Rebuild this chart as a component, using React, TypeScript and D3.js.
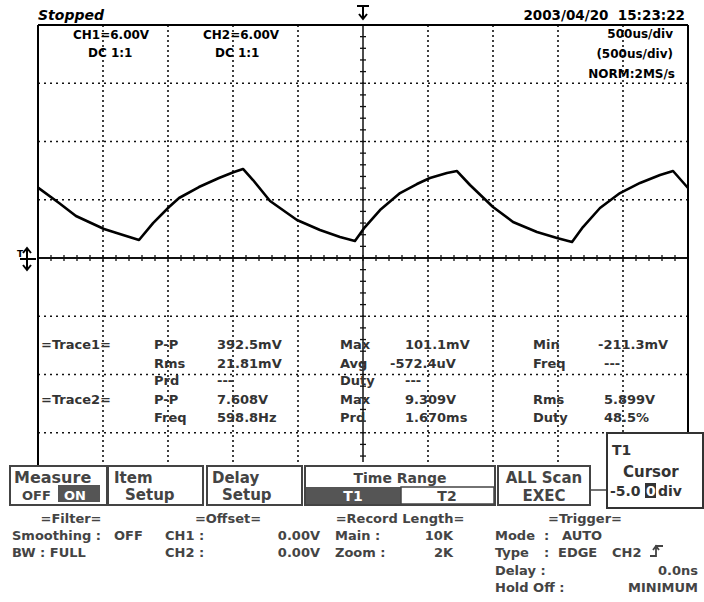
import React from "react";
import * as d3 from "d3";

// trace 2 (CH2): time in us, level in volts
const trace2Time = [0, 162, 292, 508, 654, 777, 885, 1008, 1085, 1238, 1392, 1508, 1577, 1654, 1785, 1992, 2169, 2323, 2438, 2515, 2631, 2785, 2915, 3015, 3146, 3223, 3323, 3500, 3654, 3838, 3992, 4108, 4192, 4323, 4477, 4631, 4785, 4885, 5000];
const trace2Volt = [7.25, 5.67, 4.33, 2.99, 2.37, 1.85, 3.6, 5.25, 6.18, 7.31, 8.24, 8.86, 9.17, 8.03, 5.87, 3.91, 2.88, 2.16, 1.75, 3.19, 4.94, 6.69, 7.62, 8.24, 8.76, 8.96, 7.52, 5.25, 3.71, 2.68, 2.06, 1.65, 3.19, 5.15, 6.69, 7.73, 8.55, 8.96, 7.21];

// trace 1 (CH1) is flat around 0 V
const trace1Time = [0, 5000];
const trace1Volt = [0, 0];

const timeDomain = [0, 5000]; // 10 div x 500us
const voltDomain = [-24, 24]; // 8 div x 6 V

const measRows = [
  ["=Trace1=", "P-P", "392.5mV", "Max", "101.1mV", "Min", "-211.3mV"],
  ["", "Rms", "21.81mV", "Avg", "-572.4uV", "Freq", " ---"],
  ["", "Prd", " ---", "Duty", "---", "", ""],
  ["=Trace2=", "P-P", "7.608V", "Max", "9.309V", "Rms", "5.899V"],
  ["", "Freq", "598.8Hz", "Prd", "1.670ms", "Duty", "48.5%"],
];
const measCols = [41, 154, 217, 340, 405, 533, 604];
const measBase = [349, 368, 385, 404, 422];

const menuTop = ["Measure", "Item", "Delay", "Time Range", "ALL Scan"];
const menuBottom = ["OFF", "Setup", "Setup", "T2", "EXEC"];
const menuEdges = [[10, 107], [108, 203], [207, 302], [305, 495], [498, 590]];

const W = 704;
const H = 602;
const left = 38;
const right = 688;
const top = 25;
const bottom = 491;

const txt = "DejaVu Sans, sans-serif";
const pre = { whiteSpace: "pre" as const };

export default function App() {
  const x = d3.scaleLinear().domain(timeDomain).range([left, right]);
  const y = d3.scaleLinear().domain(voltDomain).range([bottom, top]);

  const line = d3
    .line<number>()
    .x((d, i) => x(trace2Time[i]))
    .y((d) => y(d));
  const line1 = d3
    .line<number>()
    .x((d, i) => x(trace1Time[i]))
    .y((d) => y(d));

  const xGrid = d3.range(500, 5000, 500);
  const yGrid = d3.range(-18, 24, 6);
  const xMinor = d3.range(100, 5000, 100);
  const yMinor = d3.range(-22.8, 24, 1.2);
  const x0 = x(2500);
  const y0 = y(0);

  return (
    <div style={{ position: "absolute", left: 0, top: 0 }}>
      <svg width={W} height={H} style={{ display: "block", background: "#fff" }}>
        {/* grid */}
        {xGrid
          .filter((t) => t !== 2500)
          .map((t) => (
            <line key={"gx" + t} x1={x(t)} x2={x(t)} y1={top} y2={466} stroke="#111" strokeWidth={1.6} strokeDasharray="2,3" />
          ))}
        {yGrid
          .filter((v) => v !== 0)
          .map((v) => (
            <line key={"gy" + v} x1={left} x2={right} y1={y(v)} y2={y(v)} stroke="#111" strokeWidth={1.6} strokeDasharray="2,4" />
          ))}
        {/* centre axes with minor ticks */}
        <line x1={x0} x2={x0} y1={top} y2={462} stroke="#111" strokeWidth={1.5} />
        {yMinor.map((v) => (
          <line key={"ym" + v} x1={x0 - 3} x2={x0 + 3} y1={y(v)} y2={y(v)} stroke="#111" strokeWidth={1.3} />
        ))}
        {xMinor.map((t) => (
          <line key={"xm" + t} x1={x(t)} x2={x(t)} y1={y0 - 3} y2={y0 + 3} stroke="#111" strokeWidth={1.3} />
        ))}
        <path d={line1(trace1Volt) || ""} fill="none" stroke="#111" strokeWidth={2} />
        <path d={line(trace2Volt) || ""} fill="none" stroke="#000" strokeWidth={2.6} strokeLinejoin="round" />

        {/* frame */}
        <line x1={left} x2={right} y1={top} y2={top} stroke="#000" strokeWidth={2} />
        <line x1={left} x2={left} y1={top} y2={466} stroke="#000" strokeWidth={2} />
        <line x1={right} x2={right} y1={top} y2={433} stroke="#000" strokeWidth={2} />

        {/* header */}
        <text x={38} y={20} fontFamily={txt} fontSize={14} fontWeight="bold" fontStyle="italic">Stopped</text>
        <text x={685} y={20} fontFamily={txt} fontSize={13.5} fontWeight="bold" textAnchor="end" style={pre}>2003/04/20  15:23:22</text>
        <path d="M357,6 H369 M363,6 V19 M359,14 L363,19 L367,14" fill="none" stroke="#000" strokeWidth={2} />

        <g fontFamily={txt} fontSize={12} fontWeight="bold" fill="#000" style={pre}>
          <text x={73} y={39}>CH1=6.00V</text>
          <text x={88} y={57}>DC  1:1</text>
          <text x={203} y={39}>CH2=6.00V</text>
          <text x={215} y={57}>DC  1:1</text>
          <text x={673} y={38} textAnchor="end">500us/div</text>
          <text x={673} y={58} textAnchor="end">(500us/div)</text>
          <text x={675} y={78} textAnchor="end">NORM:2MS/s</text>
        </g>

        {/* ground marker */}
        <text x={17} y={257} fontFamily={txt} fontSize={9} fontWeight="bold">T</text>
        <path d="M27,248 V270 M23,253 L27,248 L31,253 M23,265 L27,270 L31,265 M20,259 H36" fill="none" stroke="#000" strokeWidth={2} />

        {/* measurement table */}
        <g fontFamily={txt} fontSize={13} fontWeight="bold" fill="#333" style={pre}>
          {measRows.map((row, r) =>
            row.map((cell, c) =>
              cell ? (
                <text key={r + "-" + c} x={measCols[c] - (cell.startsWith("-") && cell.length > 3 ? (c === 6 ? 6 : 15) : 0)} y={measBase[r]}>
                  {cell}
                </text>
              ) : null
            )
          )}
        </g>

        {/* menu */}
        <g fontFamily={txt} fontSize={15} fontWeight="bold" fill="#444">
          {menuEdges.map(([a, b], i) => (
            <rect key={"mb" + i} x={a} y={466} width={b - a} height={39} fill="#fff" stroke="#444" strokeWidth={2} />
          ))}
          <text x={14} y={483} fontSize={16}>{menuTop[0]}</text>
          <text x={22} y={500} fontSize={13}>{menuBottom[0]}</text>
          <rect x={58} y={485} width={42} height={17} fill="#555" />
          <text x={64} y={500} fontSize={13} fill="#fff">ON</text>
          <text x={114} y={483}>{menuTop[1]}</text>
          <text x={125} y={500}>{menuBottom[1]}</text>
          <text x={212} y={483}>{menuTop[2]}</text>
          <text x={222} y={500}>{menuBottom[2]}</text>
          <text x={400} y={483} textAnchor="middle" fontSize={14}>{menuTop[3]}</text>
          <rect x={306} y={487} width={95} height={17} fill="#555" />
          <rect x={401} y={487} width={93} height={17} fill="#fff" stroke="#444" strokeWidth={1.5} />
          <text x={353} y={501} textAnchor="middle" fontSize={14} fill="#fff">T1</text>
          <text x={447} y={501} textAnchor="middle" fontSize={14}>{menuBottom[3]}</text>
          <text x={544} y={483} textAnchor="middle">{menuTop[4]}</text>
          <text x={544} y={501} textAnchor="middle">{menuBottom[4]}</text>
        </g>

        {/* cursor box */}
        <line x1={590} x2={607} y1={490} y2={490} stroke="#444" strokeWidth={1.5} />
        <rect x={607} y={433} width={96} height={75} fill="#fff" stroke="#333" strokeWidth={2} />
        <g fontFamily={txt} fontSize={14} fontWeight="bold" fill="#333">
          <text x={612} y={455}>T1</text>
          <text x={623} y={477} fontSize={15}>Cursor</text>
          <text x={610} y={496}>-5.0</text>
          <rect x={645} y={483} width={11} height={15} fill="#333" />
          <text x={646} y={496} fill="#fff">0</text>
          <text x={658} y={496}>div</text>
        </g>

        {/* settings */}
        <g fontFamily={txt} fontSize={13} fontWeight="bold" fill="#444">
          <text x={71} y={523} textAnchor="middle">=Filter=</text>
          <text x={228} y={523} textAnchor="middle">=Offset=</text>
          <text x={400} y={523} textAnchor="middle">=Record Length=</text>
          <text x={585} y={523} textAnchor="middle">=Trigger=</text>

          <text x={12} y={540}>Smoothing :</text>
          <text x={114} y={540}>OFF</text>
          <text x={165} y={540}>CH1 :</text>
          <text x={320} y={540} textAnchor="end">0.00V</text>
          <text x={335} y={540}>Main :</text>
          <text x={453} y={540} textAnchor="end">10K</text>
          <text x={495} y={540}>Mode</text>
          <text x={544} y={540}>:</text>
          <text x={562} y={540}>AUTO</text>

          <text x={12} y={557}>BW : FULL</text>
          <text x={165} y={557}>CH2 :</text>
          <text x={320} y={557} textAnchor="end">0.00V</text>
          <text x={335} y={557}>Zoom :</text>
          <text x={453} y={557} textAnchor="end">2K</text>
          <text x={495} y={557}>Type</text>
          <text x={544} y={557}>:</text>
          <text x={558} y={557}>EDGE</text>
          <text x={612} y={557}>CH2</text>
          <path d="M650,556 H656 V546 H663 M653,550 L656,546 L659,550" fill="none" stroke="#444" strokeWidth={1.8} />

          <text x={495} y={575}>Delay :</text>
          <text x={698} y={575} textAnchor="end">0.0ns</text>
          <text x={495} y={592}>Hold Off :</text>
          <text x={698} y={592} textAnchor="end">MINIMUM</text>
        </g>
      </svg>
    </div>
  );
}
